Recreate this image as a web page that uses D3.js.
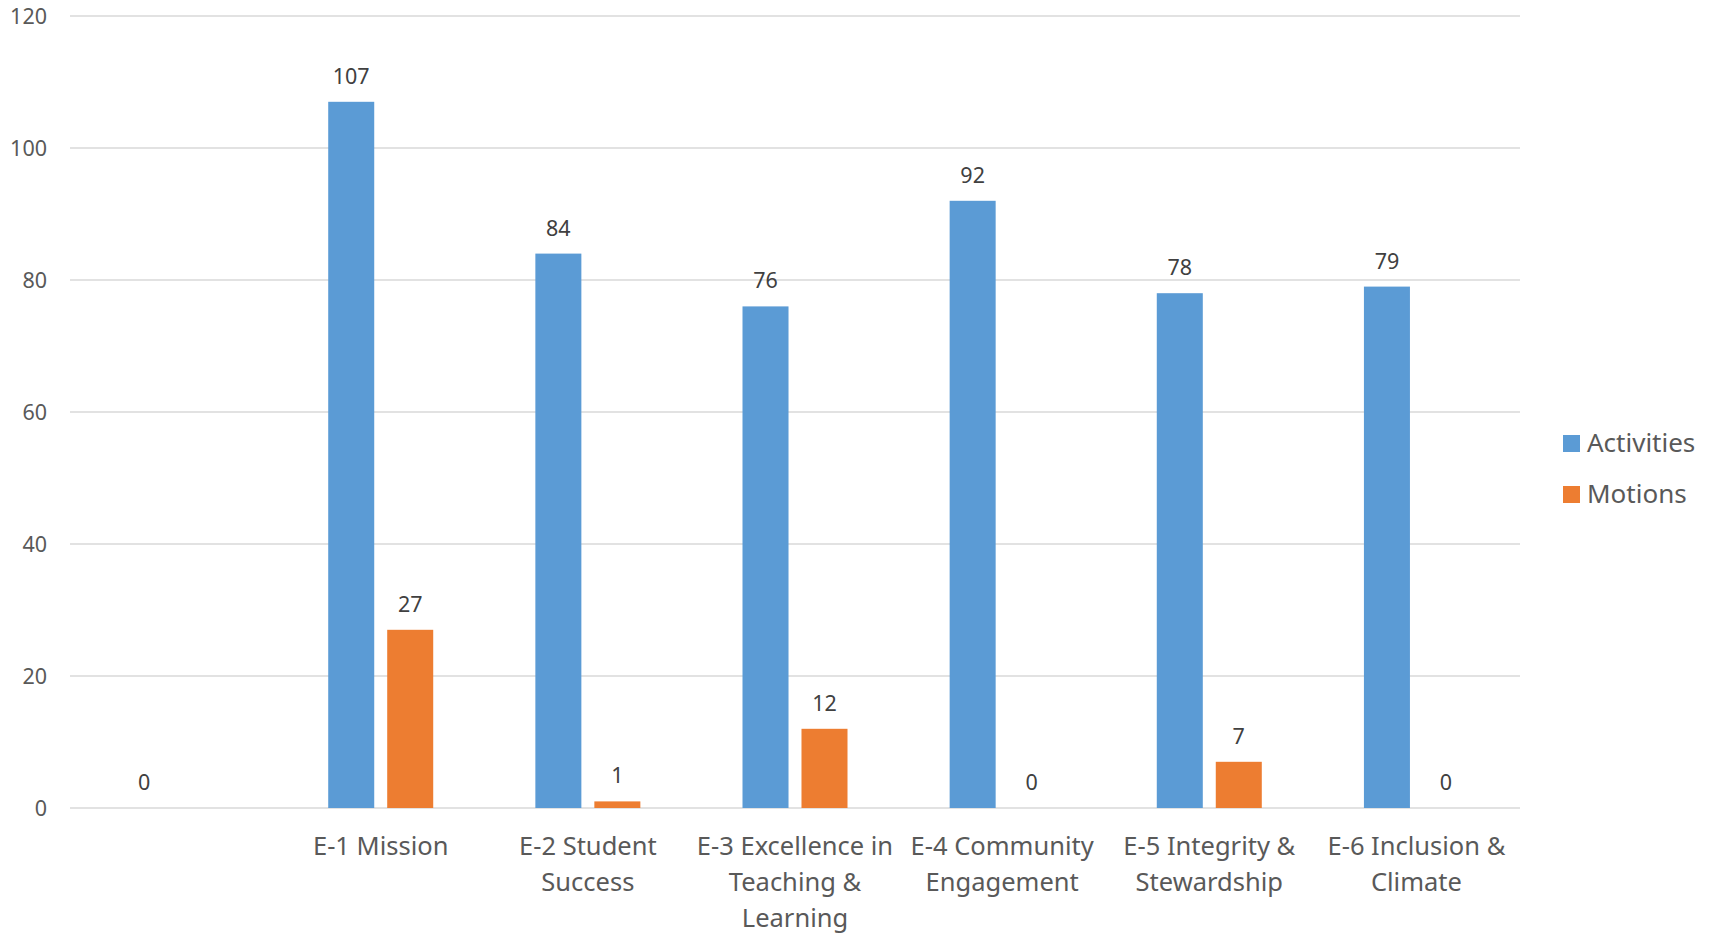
<!DOCTYPE html>
<html>
<head>
<meta charset="utf-8">
<script src="https://cdn.jsdelivr.net/npm/d3@7"></script>
<style>
  body { margin: 0; background: #fff; }
  text { font-family: "Noto Sans", "Open Sans", sans-serif; }
</style>
</head>
<body>
<div id="chart"></div>
<script>
  // values
  var categories = ['', 'E-1 Mission', 'E-2 Student Success', 'E-3 Excellence in Teaching & Learning',
    'E-4 Community Engagement', 'E-5 Integrity & Stewardship', 'E-6 Inclusion & Climate'];
  var seriesNames = ['Activities', 'Motions'];
  var activities = [0, 107, 84, 76, 92, 78, 79];
  var motions = [null, 27, 1, 12, 0, 7, 0];
  var yTicks = [0, 20, 40, 60, 80, 100, 120];
  var colors = ['#5B9BD5', '#ED7D31'];

  var w = 1709, h = 937;
  var margin = {top: 16, right: 189, bottom: 129, left: 70};
  var width = w - margin.left - margin.right;
  var height = h - margin.top - margin.bottom;

  var svg = d3.select('#chart')
    .append('svg')
    .attr('width', w)
    .attr('height', h);

  var g = svg.append('g')
    .attr('transform', 'translate(' + margin.left + ',' + margin.top + ')');

  var x0 = d3.scaleBand().domain(categories).range([0, width]).padding(0);
  var inner = 105;
  var x1 = d3.scaleBand().domain(seriesNames)
    .range([(x0.bandwidth() - inner) / 2, (x0.bandwidth() + inner) / 2])
    .paddingInner(0.22).paddingOuter(0);
  var y = d3.scaleLinear().domain([0, 120]).range([height, 0]);

  // gridlines
  g.append('g')
    .selectAll('line')
    .data(yTicks)
    .enter().append('line')
    .attr('x1', 0).attr('x2', width)
    .attr('y1', function(d) { return y(d); })
    .attr('y2', function(d) { return y(d); })
    .attr('stroke', '#D9D9D9')
    .attr('stroke-width', 1.3);

  // y axis labels
  var yAxis = d3.axisLeft(y).tickValues(yTicks).tickSize(0).tickPadding(23);
  var ya = g.append('g').call(yAxis);
  ya.select('.domain').remove();
  ya.selectAll('text')
    .attr('font-size', '21.5px')
    .attr('fill', '#595959')
    .attr('dy', '0.36em')
    .style('font-family', '"Noto Sans", sans-serif');

  var series = [activities, motions];
  var rows = [];
  categories.forEach(function(c, i) {
    seriesNames.forEach(function(s, j) {
      if (series[j][i] !== null) rows.push({cat: c, name: s, value: series[j][i], color: colors[j]});
    });
  });

  g.append('g')
    .selectAll('rect')
    .data(rows)
    .enter().append('rect')
    .attr('x', function(d) { return x0(d.cat) + x1(d.name); })
    .attr('width', x1.bandwidth())
    .attr('y', function(d) { return y(d.value); })
    .attr('height', function(d) { return height - y(d.value); })
    .attr('fill', function(d) { return d.color; });

  g.append('g')
    .selectAll('text')
    .data(rows)
    .enter().append('text')
    .attr('x', function(d) { return x0(d.cat) + x1(d.name) + x1.bandwidth() / 2; })
    .attr('y', function(d) { return y(d.value) - 18; })
    .attr('text-anchor', 'middle')
    .attr('font-size', '21.5px')
    .attr('fill', '#404040')
    .text(function(d) { return d.value; });

  // category labels, wrapped like the original
  var xAxis = d3.axisBottom(x0).tickSize(0).tickPadding(0);
  var xa = g.append('g')
    .attr('transform', 'translate(0,' + height + ')')
    .call(xAxis);
  xa.select('.domain').remove();
  xa.selectAll('text')
    .attr('font-size', '25.5px')
    .attr('fill', '#595959')
    .style('font-family', '"Noto Sans", sans-serif')
    .call(wrap, 206);

  function wrap(text, maxW) {
    text.each(function() {
      var t = d3.select(this);
      var words = t.text().split(/\s+/).filter(function(s) { return s; });
      t.text(null).attr('y', null).attr('dy', null);
      var line = [], lineNo = 0;
      var tspan = t.append('tspan').attr('x', 0).attr('y', 47);
      words.forEach(function(word) {
        line.push(word);
        tspan.text(line.join(' '));
        if (tspan.node().getComputedTextLength() > maxW && line.length > 1) {
          line.pop();
          tspan.text(line.join(' '));
          line = [word];
          lineNo++;
          tspan = t.append('tspan').attr('x', 0).attr('y', 47 + lineNo * 36).text(word);
        }
      });
    });
  }

  // legend
  var legend = svg.append('g').attr('transform', 'translate(1563,435)');
  var item = legend.selectAll('g')
    .data(seriesNames)
    .enter().append('g')
    .attr('transform', function(d, i) { return 'translate(0,' + (i * 51) + ')'; });
  item.append('rect')
    .attr('width', 17).attr('height', 17)
    .attr('fill', function(d, i) { return colors[i]; });
  item.append('text')
    .attr('x', 24).attr('y', 17)
    .attr('font-size', '26px')
    .attr('fill', '#595959')
    .text(function(d) { return d; });
</script>
</body>
</html>
